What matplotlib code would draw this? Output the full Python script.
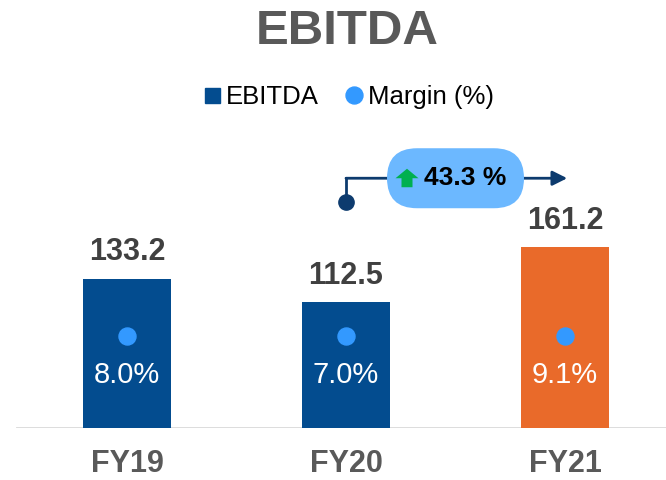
import matplotlib.pyplot as plt
import matplotlib.transforms as mtransforms
from matplotlib.patches import FancyBboxPatch, Polygon
from matplotlib.lines import Line2D

plt.rcParams['font.family'] = ['Liberation Sans', 'DejaVu Sans']

# data
years = ["FY19", "FY20", "FY21"]
ebitda = [133.2, 112.5, 161.2]
margin = [8.0, 7.0, 9.1]
bar_colors = ["#034C8F", "#034C8F", "#E96A2A"]

dot_color = "#3399FF"
navy = "#0D3B6E"
grey_txt = "#595959"

fig = plt.figure(figsize=(6.66, 4.8), dpi=100)
ax = fig.add_axes([0, 52 / 480, 1, 428 / 480])

x = list(range(len(years)))
ax.bar(x, ebitda, width=0.40, color=bar_colors, zorder=2)

# value labels above the bars
for xi, v in zip(x, ebitda):
    ax.annotate(f"{v:.1f}", (xi, v), xytext=(0, 19), textcoords="offset points",
                ha="center", va="center", fontsize=22, fontweight="bold", color="#404040")

# margin dots + labels inside the bars
ax.scatter(x, [82] * len(x), s=150, color=dot_color, zorder=3)
for xi, m in zip(x, margin):
    ax.text(xi, 47, f"{m:.1f}%", ha="center", va="center", fontsize=21, color="white", zorder=3)

ax.set_xlim(-127 / 219, 2 + 101 / 219)
ax.set_ylim(0, 428 / 1.12)

# baseline
ax.axhline(0, xmin=17 / 666, xmax=1, color="#D9D9D9", lw=2, zorder=1)
for s in ax.spines.values():
    s.set_visible(False)
ax.set_yticks([])
ax.set_xticks(x)
ax.set_xticklabels(years, fontsize=22, fontweight="bold", color=grey_txt)
ax.tick_params(axis="x", length=0, pad=15)

# growth callout FY20 -> FY21
growth = (ebitda[2] / ebitda[1] - 1) * 100
y_line = 223
ax.plot([1, 1], [202, y_line], color=navy, lw=2, zorder=4, clip_on=False)
ax.plot([1], [202], "o", color=navy, ms=11, zorder=4)
ax.annotate("", xy=(2.01, y_line), xytext=(1, y_line),
            arrowprops=dict(arrowstyle="-|>", color=navy, lw=2, mutation_scale=22,
                            shrinkA=0, shrinkB=0), zorder=4)

trans = fig.dpi_scale_trans + mtransforms.ScaledTranslation(1.5, y_line, ax.transData)
bubble = FancyBboxPatch((-0.685, -0.30), 1.37, 0.60,
                        boxstyle="round,pad=0,rounding_size=0.30",
                        fc="#6CB8FF", ec="none", transform=trans, zorder=5)
ax.add_patch(bubble)
# green up arrow (head + stem)
up_arrow = Polygon([(-0.600, 0.00), (-0.485, 0.095), (-0.370, 0.00), (-0.430, 0.00),
                    (-0.430, -0.09), (-0.540, -0.09), (-0.540, 0.00)],
                   closed=True, fc="#00B050", ec="none", transform=trans, zorder=6)
ax.add_patch(up_arrow)
ax.text(0.10, 0, f"{growth:.1f} %", transform=trans, ha="center", va="center",
        fontsize=19, fontweight="bold", color="black", zorder=6)

# legend
handles = [Line2D([], [], ls="", marker="s", ms=10.8, color="#034C8F"),
           Line2D([], [], ls="", marker="o", ms=12.2, color=dot_color)]
fig.legend(handles, ["EBITDA", "Margin (%)"], loc="center", bbox_to_anchor=(349 / 666, 1 - 97 / 480),
           ncol=2, frameon=False, fontsize=18.5, handlelength=0.62, handletextpad=0.22,
           columnspacing=1.05)

fig.text(347 / 666, 1 - 31 / 480, "EBITDA", ha="center", va="center",
         fontsize=35.5, fontweight="bold", color=grey_txt)

fig.savefig("out.png", dpi=100)
